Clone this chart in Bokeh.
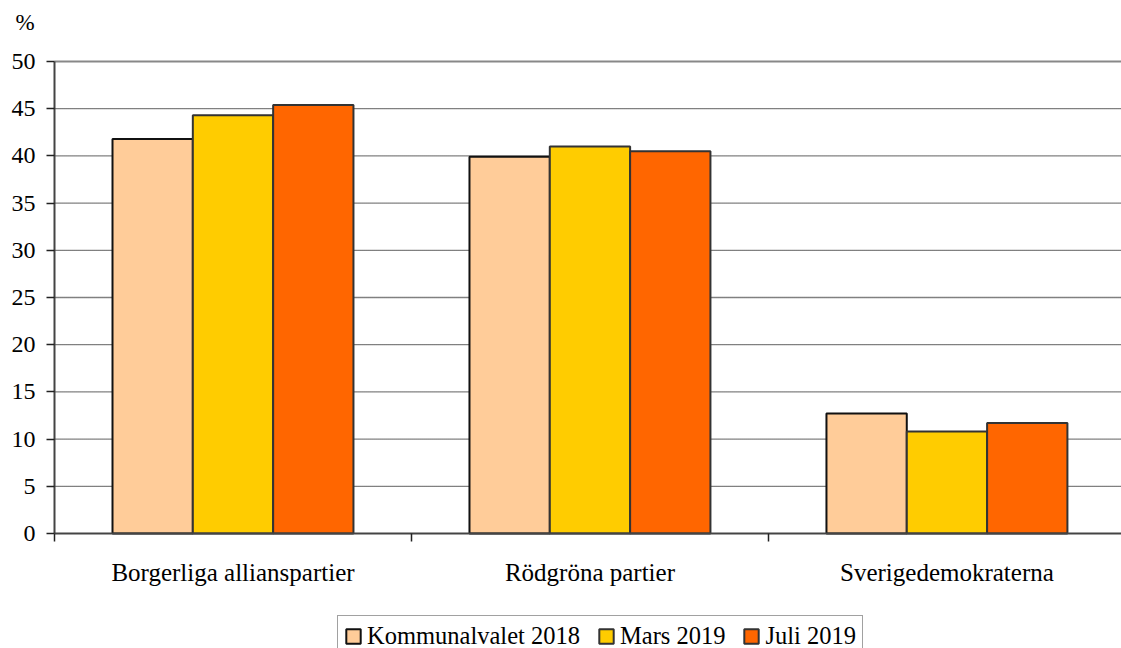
from bokeh.plotting import figure
from bokeh.models import (Range1d, FixedTicker, ColumnDataSource, Legend, LegendItem,
                          Label)
from bokeh.embed import file_html
from bokeh.resources import INLINE

categories = ["Borgerliga allianspartier", "Rödgröna partier", "Sverigedemokraterna"]
series_names = ["Kommunalvalet 2018", "Mars 2019", "Juli 2019"]
kommunalvalet_2018 = [41.8, 39.9, 12.7]
mars_2019 = [44.3, 41.0, 10.8]
juli_2019 = [45.4, 40.5, 11.7]
y_ticks = [0, 5, 10, 15, 20, 25, 30, 35, 40, 45, 50]

colors = ["#FFCC99", "#FFCC00", "#FF6600"]
outlines = ["#111111", "#333333", "#333333"]
FONT = "Liberation Serif"

W, H = 1121, 648
LEFT, TOP = 54, 61            # pixel position of the value axis / top line
PX_PER_CAT = 357.0
PX_PER_UNIT = 9.44
y_max = 50
x_end = 2.989
x_start = -LEFT / PX_PER_CAT
y_top = y_max + TOP / PX_PER_UNIT
y_bottom = y_top - H / PX_PER_UNIT

p = figure(width=W, height=H, output_backend="svg", toolbar_location=None,
           x_range=Range1d(x_start, x_end), y_range=Range1d(y_bottom, y_top),
           min_border_left=0, min_border_right=0, min_border_top=0,
           min_border_bottom=0)
p.outline_line_color = None
p.background_fill_color = "white"
p.border_fill_color = "white"
p.xgrid.grid_line_color = None
p.ygrid.grid_line_color = None

# grid lines (dotted) between the axes, and the solid top line at 50
grid_src = ColumnDataSource(dict(y=y_ticks[1:-1]))
p.segment(x0=0, x1=x_end, y0="y", y1="y", source=grid_src,
          line_color="black", line_width=1.3, line_dash="1 1")
p.segment(x0=0, x1=x_end, y0=y_max, y1=y_max, line_color="#888888", line_width=2)

bw = 0.225
offsets = [-bw, 0.0, bw]
renderers = []
for k, (vals, name) in enumerate(zip([kommunalvalet_2018, mars_2019, juli_2019], series_names)):
    xs = [i + 0.5 + offsets[k] for i in range(len(categories))]
    src = ColumnDataSource(dict(x=xs, top=vals))
    r = p.vbar(x="x", top="top", bottom=0, width=bw, source=src, fill_color=colors[k],
               line_color=outlines[k], line_width=2)
    renderers.append((name, r))

# value axis
p.yaxis.fixed_location = 0
p.yaxis.ticker = FixedTicker(ticks=y_ticks)
p.yaxis.bounds = (0, y_max)
p.yaxis.major_tick_out = 8
p.yaxis.major_tick_in = 0
p.yaxis.minor_tick_line_color = None
p.yaxis.axis_line_color = "#444444"
p.yaxis.axis_line_width = 2
p.yaxis.major_tick_line_color = "#222222"
p.yaxis.major_tick_line_width = 1.5
p.yaxis.major_label_text_font = FONT
p.yaxis.major_label_text_font_size = "24px"
p.yaxis.major_label_text_color = "black"
p.yaxis.major_label_standoff = 11

# category axis
p.xaxis.fixed_location = 0
p.xaxis.bounds = (0, x_end)
p.xaxis.ticker = FixedTicker(ticks=[i + 0.5 for i in range(len(categories))],
                             minor_ticks=list(range(len(categories) + 1)))
p.xaxis.major_label_overrides = {i + 0.5: c for i, c in enumerate(categories)}
p.xaxis.major_tick_line_color = None
p.xaxis.major_tick_out = 0
p.xaxis.major_tick_in = 0
p.xaxis.minor_tick_out = 8
p.xaxis.minor_tick_in = 0
p.xaxis.minor_tick_line_color = "#222222"
p.xaxis.minor_tick_line_width = 1.5
p.xaxis.axis_line_color = "#444444"
p.xaxis.axis_line_width = 2
p.xaxis.major_label_text_font = FONT
p.xaxis.major_label_text_font_size = "25px"
p.xaxis.major_label_text_color = "black"
p.xaxis.major_label_standoff = 17

# "%" unit label above the value axis
p.add_layout(Label(x=x_start + 15 / PX_PER_CAT, y=y_top - 22 / PX_PER_UNIT, text="%",
                   text_font=FONT, text_font_size="23px", text_color="black",
                   text_align="left", text_baseline="middle"))

legend = Legend(items=[LegendItem(label=n, renderers=[r]) for n, r in renderers],
                orientation="horizontal", location=(337, -9),
                glyph_width=18, glyph_height=18, spacing=17, label_standoff=5,
                padding=6, margin=0,
                label_text_font=FONT, label_text_font_size="24.5px",
                label_text_color="black",
                border_line_color="#444444", border_line_width=1.5,
                background_fill_color="white")
p.add_layout(legend, "center")

open("out.html", "w").write(file_html(p, INLINE))
